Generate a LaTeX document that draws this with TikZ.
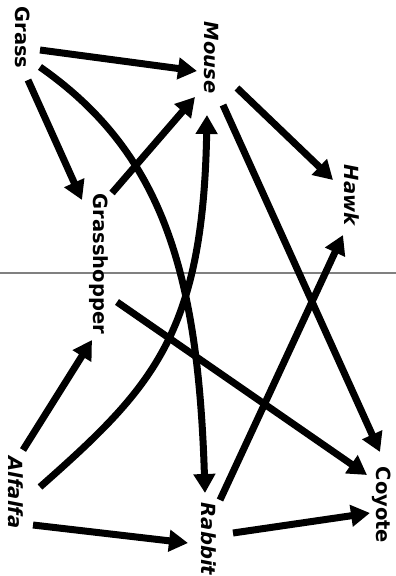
\documentclass[tikz,border=0pt]{standalone}
\usepackage{fontspec}
\setmainfont{DejaVu Sans}
\usetikzlibrary{arrows.meta}

\begin{document}
\begin{tikzpicture}[x=1pt,y=-1pt,>={Triangle[length=19pt,width=21pt]},
    species/.style={rotate=-90,inner sep=0pt,text height=14pt,text depth=4pt,font=\fontsize{19.5}{24}\selectfont\bfseries},
    feeds/.style={->,line width=7pt}]
  \useasboundingbox (0,0) rectangle (396,576);
  % fold line of the scanned page
  \draw[gray,line width=1.2pt] (0,273) -- (396,273);

  \node[species] (grass) at (21,37.5) {Grass};
  \node[species] (mouse) at (209,57.5) {\itshape Mouse};
  \node[species] (hawk) at (349,195) {\itshape Hawk};
  \node[species] (grasshopper) at (98,264) {Grasshopper};
  \node[species] (alfalfa) at (14,492.5) {\itshape Alfalfa};
  \node[species] (rabbit) at (206,539) {\itshape Rabbit};
  \node[species] (coyote) at (381,505) {Coyote};

  \draw[feeds] ([shift={(19,12.5)}]grass.center) -- ([shift={(-12,13.5)}]mouse.center);
  \draw[feeds] ([shift={(19,29.5)}]grass.center) .. controls +(123,86) and +(-7,-220) .. ([shift={(-1,-46)}]rabbit.center);
  \draw[feeds] ([shift={(7,42.5)}]grass.center) -- ([shift={(-16,-64)}]grasshopper.center);
  \draw[feeds] ([shift={(14,-71)}]grasshopper.center) -- ([shift={(-14,39.5)}]mouse.center);
  \draw[feeds] ([shift={(19,38)}]grasshopper.center) -- ([shift={(-14,-30)}]coyote.center);
  \draw[feeds] ([shift={(26,-5.5)}]alfalfa.center) .. controls +(112,-99) and +(-4,220) .. ([shift={(-2,57.5)}]mouse.center);
  \draw[feeds] ([shift={(9,-42.5)}]alfalfa.center) -- ([shift={(-6,76)}]grasshopper.center);
  \draw[feeds] ([shift={(19,32.5)}]alfalfa.center) -- ([shift={(-18,4)}]rabbit.center);
  \draw[feeds] ([shift={(27,-6)}]rabbit.center) -- ([shift={(-11,8)}]coyote.center);
  \draw[feeds] ([shift={(14,-39)}]rabbit.center) -- ([shift={(-6,40)}]hawk.center);
  \draw[feeds] ([shift={(28,30.5)}]mouse.center) -- ([shift={(-16,-15)}]hawk.center);
  \draw[feeds] ([shift={(14,47.5)}]mouse.center) -- ([shift={(-1,-53)}]coyote.center);
\end{tikzpicture}
\end{document}
